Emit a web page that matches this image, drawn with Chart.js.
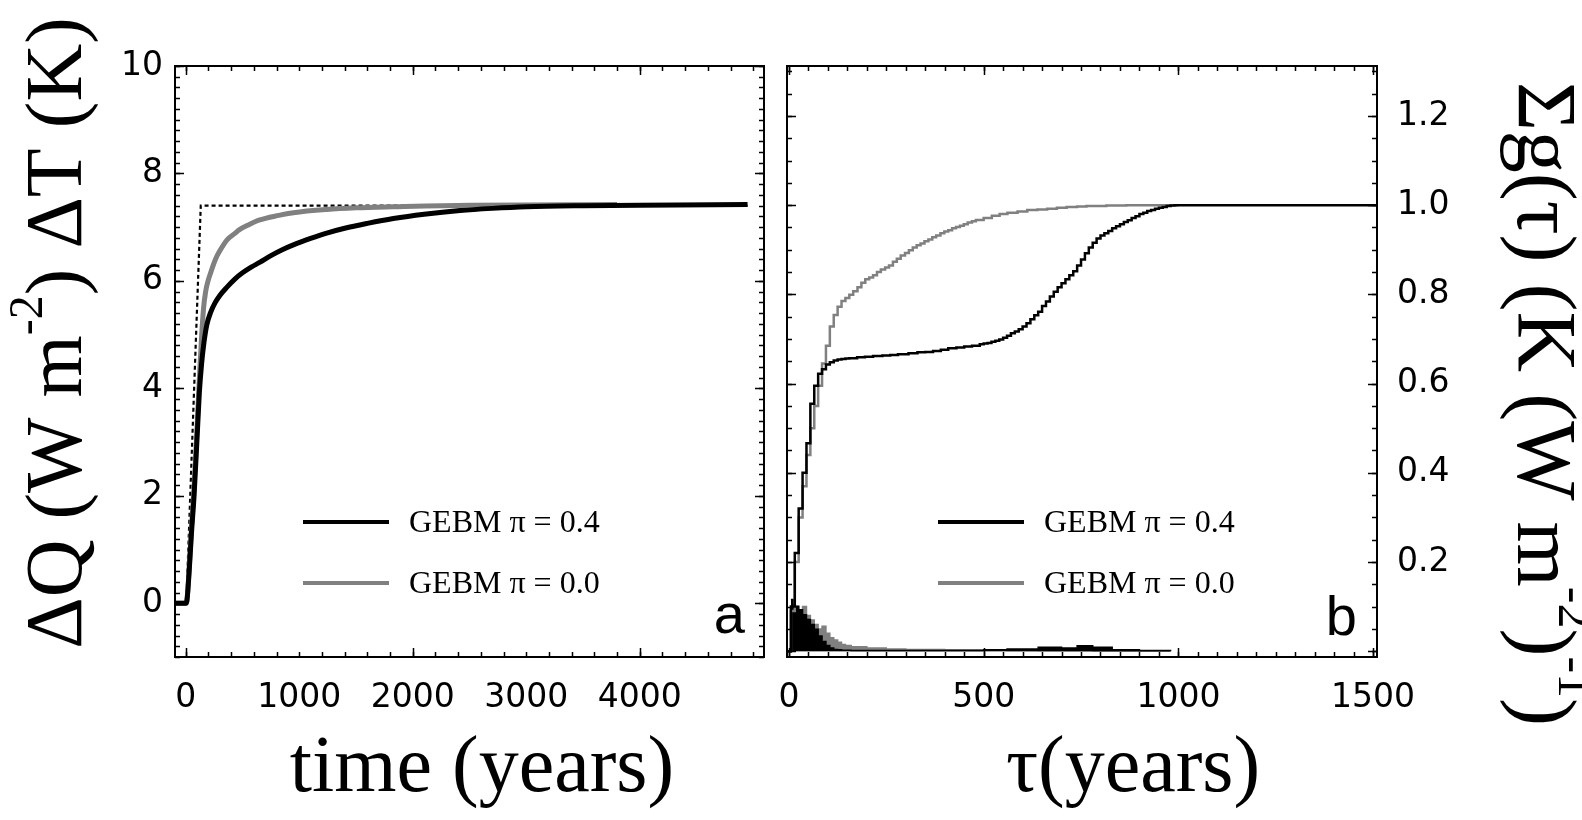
<!DOCTYPE html>
<html>
<head>
<meta charset="utf-8">
<script src="https://cdn.jsdelivr.net/npm/chart.js@4.4.1/dist/chart.umd.min.js"></script>
<style>
  body { margin: 0; background: #fff; width: 1582px; height: 820px; overflow: hidden; position: relative; }
  .panel { position: absolute; top: 0; }
</style>
</head>
<body>
<div class="panel" style="left:0;width:775px;height:820px"><canvas id="tempChart" width="775" height="820"></canvas></div>
<div class="panel" style="left:775px;width:807px;height:820px"><canvas id="greenChart" width="807" height="820"></canvas></div>
<script>
// ---- panel a: response to forcing ----
const timeTicks = [0, 1000, 2000, 3000, 4000];
const tempTicks = [0, 2, 4, 6, 8, 10];

const tBlack = [-95, 0, 10, 30, 50, 73, 100, 119, 139, 160, 185, 220, 260, 300, 361, 430, 500, 580, 655, 750, 850, 948, 1100, 1242, 1400, 1600, 1829, 2100, 2417, 2700, 3004, 3500, 4000, 4950];
const dtBlack = [0, 0, 0.05, 0.6, 1.3, 2.0, 3.1, 3.9, 4.45, 4.85, 5.18, 5.42, 5.6, 5.73, 5.88, 6.03, 6.15, 6.26, 6.35, 6.47, 6.58, 6.67, 6.79, 6.89, 6.98, 7.07, 7.16, 7.24, 7.31, 7.35, 7.38, 7.40, 7.41, 7.42];
const tGrey = [-95, 0, 10, 30, 50, 73, 100, 119, 139, 157, 175, 191, 214, 261, 300, 366, 430, 470, 560, 644, 819, 948, 1242, 1500, 1829, 2500, 3800];
const dtGrey = [0, 0, 0.05, 0.65, 1.4, 2.15, 3.3, 4.15, 4.95, 5.5, 5.8, 5.96, 6.12, 6.40, 6.56, 6.77, 6.88, 6.95, 7.05, 7.13, 7.22, 7.27, 7.33, 7.36, 7.38, 7.41, 7.42];
const tForcing = [-95, 5, 132, 4950];
const dqForcing = [0, 0, 7.4, 7.4];

// ---- panel b: Green's function and its running sum ----
const tauTicks = [0, 500, 1000, 1500];
const sumTicks = [0.2, 0.4, 0.6, 0.8, 1.0, 1.2];

const histTau = [5, 15, 25, 35, 45, 55, 65, 75, 85, 95, 105, 115, 125, 135, 145, 160, 200, 250, 300, 400, 500, 560, 640, 700, 740, 780, 830, 900, 980];
const hist04 = [0.116, 0.101, 0.093, 0.082, 0.071, 0.060, 0.049, 0.034, 0.022, 0.013, 0.007, 0.004, 0.003, 0.002, 0.002, 0.0015, 0.0015, 0.0015, 0.0015, 0.0015, 0.003, 0.005, 0.009, 0.007, 0.012, 0.009, 0.003, 0.0015, 0];
const hist00 = [0.10, 0.10, 0.09, 0.10, 0.08, 0.07, 0.06, 0.05, 0.056, 0.04, 0.03, 0.025, 0.02, 0.015, 0.013, 0.01, 0.007, 0.005, 0.004, 0.003, 0.002, 0.0015, 0.001, 0.001, 0.001, 0, 0, 0, 0];

const cumTau04 = [-5, 5, 15, 25, 35, 45, 55, 65, 75, 85, 95, 105, 115, 125, 135, 145, 155, 175, 195, 216, 240, 260, 280, 307, 330, 350, 370, 390, 409, 430, 450, 470, 490,
  500, 510, 520, 530, 540, 550, 560, 570, 580, 590, 600, 610, 620, 630, 640, 650, 660, 670, 680, 690, 700, 710, 720, 730, 740, 750, 760, 770, 780, 790,
  800, 810, 820, 830, 840, 850, 860, 870, 880, 890, 900, 910, 920, 930, 940, 950, 960, 970, 980, 990, 1510];
const cum04 = [0, 0.10, 0.22, 0.32, 0.40, 0.466, 0.555, 0.595, 0.622, 0.632, 0.643, 0.648, 0.652, 0.654, 0.655, 0.656, 0.657, 0.659, 0.660, 0.662, 0.663, 0.664, 0.666, 0.668, 0.670, 0.671, 0.673, 0.676, 0.679, 0.681, 0.683, 0.685, 0.688,
  0.690, 0.691, 0.694, 0.696, 0.699, 0.703, 0.707, 0.713, 0.717, 0.722, 0.728, 0.735, 0.744, 0.753, 0.761, 0.774, 0.784, 0.795, 0.806, 0.816, 0.825, 0.834, 0.843, 0.852, 0.865, 0.878, 0.892, 0.905, 0.916, 0.925,
  0.932, 0.937, 0.942, 0.948, 0.953, 0.957, 0.962, 0.966, 0.971, 0.975, 0.980, 0.983, 0.987, 0.989, 0.992, 0.994, 0.996, 0.998, 0.999, 1.0, 1.0];
const cumTau00 = [-5, 5, 15, 25, 35, 45, 55, 65, 75, 85, 95, 105, 115, 125, 135, 145, 155, 165, 176, 186, 196, 206, 216, 226, 236, 247, 257, 267, 277, 287, 298, 308, 318, 328, 338, 348, 358, 368, 378, 389, 399,
  409, 419, 429, 439, 449, 459, 470, 480, 500, 521, 541, 561, 587, 612, 638, 663, 688, 713, 740, 764, 815, 866, 1000];
const cum00 = [0, 0.09, 0.20, 0.30, 0.37, 0.44, 0.50, 0.55, 0.595, 0.645, 0.685, 0.728, 0.754, 0.772, 0.785, 0.792, 0.799, 0.807, 0.816, 0.826, 0.834, 0.838, 0.843, 0.850, 0.856, 0.860, 0.865, 0.873, 0.880, 0.887, 0.893, 0.899, 0.905, 0.910, 0.914, 0.919, 0.923, 0.928, 0.932, 0.937, 0.941,
  0.944, 0.948, 0.951, 0.954, 0.957, 0.961, 0.964, 0.967, 0.971, 0.976, 0.980, 0.983, 0.986, 0.989, 0.990, 0.992, 0.994, 0.996, 0.997, 0.998, 0.999, 1.0, 1.0];

const BLACK = '#000000';
const GREY = '#808080';
const zip = (xs, ys) => xs.map((x, i) => ({ x: x, y: ys[i] }));

// draws a string made of [text, isSuperscript] parts centred on (0,0)
function drawRich(ctx, parts, size, family) {
  const fonts = parts.map(p => (p[1] ? Math.round(size * 0.6) : size) + 'px ' + family);
  const widths = parts.map((p, i) => { ctx.font = fonts[i]; return ctx.measureText(p[0]).width; });
  let x = -widths.reduce((s, w) => s + w, 0) / 2;
  parts.forEach((p, i) => {
    ctx.font = fonts[i];
    ctx.fillText(p[0], x, p[1] ? -size * 0.38 : 0);
    x += widths[i];
  });
}

// frame with inward ticks on all four sides, legend, panel letter and axis titles
const framePlugin = {
  id: 'frame',
  afterDatasetsDraw(chart, args, opts) {
    const { ctx, chartArea: a, scales } = chart;
    const x = scales.x, y = scales.y;
    ctx.save();
    ctx.strokeStyle = '#000';
    ctx.lineWidth = 1.5;
    const marks = (scale, step, len, horiz) => {
      for (let i = Math.ceil(scale.min / step - 1e-9); i * step <= scale.max + 1e-9; i++) {
        const p = Math.round(scale.getPixelForValue(i * step)) + 0.5;
        ctx.beginPath();
        if (horiz) {
          ctx.moveTo(p, a.bottom); ctx.lineTo(p, a.bottom - len);
          ctx.moveTo(p, a.top); ctx.lineTo(p, a.top + len);
        } else {
          ctx.moveTo(a.left, p); ctx.lineTo(a.left + len, p);
          ctx.moveTo(a.right, p); ctx.lineTo(a.right - len, p);
        }
        ctx.stroke();
      }
    };
    marks(x, opts.xMinor, 5, true);
    marks(x, opts.xMajor, 9, true);
    marks(y, opts.yMinor, 5, false);
    marks(y, opts.yMajor, 9, false);
    ctx.lineWidth = 2;
    ctx.strokeRect(a.left, a.top, a.right - a.left, a.bottom - a.top);

    // legend
    const lg = opts.legend;
    ctx.font = '32px "Liberation Serif"';
    ctx.textBaseline = 'middle';
    ctx.textAlign = 'left';
    chart.data.datasets.filter(d => d.inLegend).forEach((d, i) => {
      const ly = lg.y + i * lg.gap;
      ctx.strokeStyle = d.legendColor;
      ctx.lineWidth = 4;
      ctx.beginPath();
      ctx.moveTo(lg.x, ly); ctx.lineTo(lg.x + lg.len, ly);
      ctx.stroke();
      ctx.fillStyle = '#000';
      ctx.fillText(d.label, lg.textX, ly + 2);
    });

    // panel letter
    ctx.font = '56px "Liberation Sans"';
    ctx.textAlign = 'right';
    ctx.textBaseline = 'alphabetic';
    ctx.fillText(opts.letter.text, opts.letter.x, opts.letter.y);

    // axis titles
    opts.titles.forEach(t => {
      ctx.save();
      ctx.translate(t.x, t.y);
      ctx.rotate(t.rot);
      ctx.textAlign = 'left';
      ctx.textBaseline = 'middle';
      ctx.fillStyle = '#000';
      drawRich(ctx, t.parts, t.size, '"Liberation Serif"');
      ctx.restore();
    });
    ctx.restore();
  }
};

const tickFont = { family: 'DejaVu Sans', size: 33 };
const noPad = s => { s.paddingLeft = 0; s.paddingRight = 0; s.paddingTop = 0; s.paddingBottom = 0; };

new Chart(document.getElementById('tempChart'), {
  type: 'line',
  data: {
    datasets: [
      { label: 'GEBM π = 0.4', inLegend: true, legendColor: BLACK, data: zip(tBlack, dtBlack), borderColor: BLACK, borderWidth: 5, cubicInterpolationMode: 'monotone' },
      { label: 'GEBM π = 0.0', inLegend: true, legendColor: GREY, data: zip(tGrey, dtGrey), borderColor: GREY, borderWidth: 5, cubicInterpolationMode: 'monotone' },
      { label: 'forcing', data: zip(tForcing, dqForcing), borderColor: BLACK, borderWidth: 2.2, borderDash: [4, 3] }
    ]
  },
  plugins: [framePlugin],
  options: {
    responsive: false, animation: false, devicePixelRatio: 1,
    layout: { padding: { top: 66, right: 11, left: 0, bottom: 0 } },
    elements: { point: { radius: 0 } },
    plugins: {
      legend: { display: false }, tooltip: { enabled: false },
      frame: {
        xMinor: 200, xMajor: 2000, yMinor: 0.2, yMajor: 2,
        legend: { x: 303, len: 86, textX: 409, y: 522, gap: 61 },
        letter: { text: 'a', x: 745, y: 633 },
        titles: [
          { parts: [['ΔQ (W m', 0], ['-2', 1], [') ΔT (K)', 0]], x: 60, y: 333, rot: -Math.PI / 2, size: 80 },
          { parts: [['time (years)', 0]], x: 482, y: 770, rot: 0, size: 80 }
        ]
      }
    },
    scales: {
      x: {
        type: 'linear', min: -95, max: 5095,
        grid: { display: false, drawTicks: false }, border: { display: false },
        afterBuildTicks: s => { s.ticks = timeTicks.map(v => ({ value: v })); },
        afterFit: s => { s.height = 163; noPad(s); },
        ticks: { font: tickFont, color: '#000', padding: 22, maxRotation: 0, autoSkip: false, callback: v => String(v) }
      },
      y: {
        type: 'linear', min: -1, max: 10,
        grid: { display: false, drawTicks: false }, border: { display: false },
        afterBuildTicks: s => { s.ticks = tempTicks.map(v => ({ value: v })); },
        afterFit: s => { s.width = 175; noPad(s); },
        ticks: { font: tickFont, color: '#000', padding: 12, callback: v => String(v) }
      }
    }
  }
});

new Chart(document.getElementById('greenChart'), {
  type: 'line',
  data: {
    datasets: [
      { label: 'GEBM π = 0.4', inLegend: true, legendColor: BLACK, data: zip(cumTau04, cum04), borderColor: BLACK, borderWidth: 2.5, stepped: true },
      { label: 'GEBM π = 0.0', inLegend: true, legendColor: GREY, data: zip(cumTau00, cum00), borderColor: GREY, borderWidth: 2.5, stepped: true },
      { label: 'g π = 0.4', data: zip(histTau, hist04), borderColor: BLACK, backgroundColor: BLACK, borderWidth: 1.5, stepped: true, fill: 'origin' },
      { label: 'g π = 0.0', data: zip(histTau, hist00), borderColor: GREY, backgroundColor: GREY, borderWidth: 1.5, stepped: true, fill: 'origin' }
    ]
  },
  plugins: [framePlugin],
  options: {
    responsive: false, animation: false, devicePixelRatio: 1,
    layout: { padding: { top: 66, right: 0, left: 12, bottom: 0 } },
    elements: { point: { radius: 0 } },
    plugins: {
      legend: { display: false }, tooltip: { enabled: false },
      frame: {
        xMinor: 50, xMajor: 500, yMinor: 0.05, yMajor: 0.2,
        legend: { x: 163, len: 86, textX: 269, y: 522, gap: 61 },
        letter: { text: 'b', x: 582, y: 635 },
        titles: [
          { parts: [['τ(years)', 0]], x: 358, y: 770, rot: 0, size: 80 },
          { parts: [['Σg(τ) (K (W m', 0], ['-2', 1], [')', 0], ['-1', 1], [')', 0]], x: 765, y: 404, rot: Math.PI / 2, size: 84 }
        ]
      }
    },
    scales: {
      x: {
        type: 'linear', min: -5, max: 1510,
        grid: { display: false, drawTicks: false }, border: { display: false },
        afterBuildTicks: s => { s.ticks = tauTicks.map(v => ({ value: v })); },
        afterFit: s => { s.height = 163; noPad(s); },
        ticks: { font: tickFont, color: '#000', padding: 22, maxRotation: 0, autoSkip: false, callback: v => String(v) }
      },
      y: {
        type: 'linear', position: 'right', min: -0.013, max: 1.312,
        grid: { display: false, drawTicks: false }, border: { display: false },
        afterBuildTicks: s => { s.ticks = sumTicks.map(v => ({ value: v })); },
        afterFit: s => { s.width = 205; noPad(s); },
        ticks: { font: tickFont, color: '#000', padding: 20, callback: v => v.toFixed(1) }
      }
    }
  }
});
</script>
</body>
</html>
